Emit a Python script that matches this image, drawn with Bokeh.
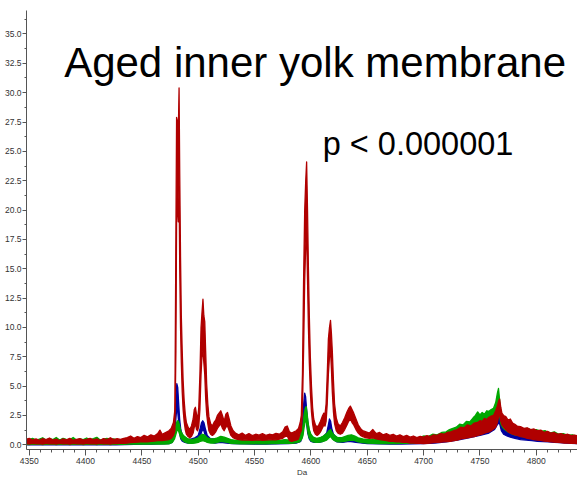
from bokeh.plotting import figure
from bokeh.models import FixedTicker, NumeralTickFormatter, Label, Range1d
from bokeh.embed import file_html
from bokeh.resources import INLINE

# ---------------- data ----------------
x_ticks = [4350, 4400, 4450, 4500, 4550, 4600, 4650, 4700, 4750, 4800]
y_ticks = [0.0, 2.5, 5.0, 7.5, 10.0, 12.5, 15.0, 17.5, 20.0, 22.5, 25.0, 27.5, 30.0, 32.5, 35.0]

title_text = "Aged inner yolk membrane"
pvalue_text = "p < 0.000001"
x_label = "Da"

red_mz = [4347, 4350, 4353, 4356, 4359, 4362, 4365, 4368, 4371, 4374,
          4377, 4380, 4383, 4386, 4389, 4392, 4395, 4398, 4401, 4404,
          4407, 4410, 4413, 4416, 4419, 4422, 4425, 4428, 4431, 4434,
          4437, 4440, 4443, 4446, 4449, 4452, 4455, 4458, 4461, 4464,
          4466, 4468, 4471, 4474, 4476, 4478, 4479.3, 4480.2, 4480.8, 4481.5,
          4482.3, 4483.0, 4483.6, 4484.3, 4485.0, 4485.8, 4486.6, 4487.5, 4488.5, 4489.5,
          4491, 4492.5, 4494, 4495.5, 4496.5, 4497.5, 4498.5, 4499.5, 4500.5, 4501.5,
          4502.5, 4503.3, 4504.2, 4505.0, 4505.8, 4506.6, 4507.5, 4508.5, 4509.5, 4511,
          4512.5, 4514, 4515.5, 4517, 4518.5, 4520, 4521.5, 4523, 4524.5, 4526,
          4527.5, 4529, 4531, 4533, 4536, 4539, 4542, 4545, 4548, 4551,
          4554, 4557, 4560, 4563, 4566, 4569, 4572, 4575, 4577, 4579,
          4581, 4583, 4585, 4587, 4589, 4590.5, 4591.5, 4592.5, 4593.5, 4594.5,
          4595.4, 4596.2, 4597.0, 4597.8, 4598.6, 4599.5, 4600.5, 4601.5, 4602.5, 4604,
          4605.5, 4607, 4608.5, 4610, 4611.5, 4612.5, 4613.5, 4614.5, 4615.5, 4616.5,
          4617.4, 4618.2, 4619.0, 4620.0, 4621.0, 4622.5, 4624, 4626, 4628, 4630,
          4632, 4633.5, 4635, 4636.5, 4638, 4640, 4642, 4644, 4646, 4649,
          4652, 4655, 4658, 4661, 4664, 4667, 4670, 4673, 4676, 4679,
          4682, 4685, 4688, 4691, 4694, 4697, 4700, 4703, 4706, 4709,
          4712, 4715, 4718, 4721, 4724, 4727, 4730, 4733, 4736, 4739,
          4742, 4745, 4748, 4750, 4752, 4754, 4756, 4758, 4760, 4762,
          4764, 4765.5, 4766.5, 4767.5, 4768.5, 4769.5, 4771, 4773, 4775, 4777,
          4779, 4781, 4783, 4786, 4789, 4792, 4795, 4798, 4801, 4804,
          4807, 4810, 4813, 4816, 4819, 4822, 4825, 4828, 4831, 4834,
          4837]
red_hi = [.45, .55, .40, .50, .38, .52, .45, .58, .40, .48,
          .36, .50, .42, .55, .38, .47, .52, .40, .46, .55,
          .42, .50, .38, .53, .45, .60, .44, .52, .47, .55,
          .62, .75, .55, .70, .62, .80, .68, .85, .75, .95,
          1.25, .90, 1.05, 1.20, 1.4, 1.9, 3.0, 18, 27.9, 27.6,
          26.5, 30.4, 23, 16, 11, 8, 5.5, 3.8, 2.6, 1.9,
          1.5, 1.3, 1.6, 2.2, 3.0, 3.2, 2.6, 2.2, 3.2, 6,
          10, 11.2, 12.4, 11.0, 10.5, 8, 5.2, 3.5, 2.4, 1.8,
          1.6, 1.9, 2.1, 2.5, 2.7, 2.9, 2.5, 2.0, 2.6, 2.75,
          2.2, 1.6, 1.2, 1.0, .85, 1.0, .80, .95, .78, .90,
          .82, .95, .80, .90, .85, .98, .90, 1.1, 1.5, 1.6,
          1.1, 1.0, 1.1, 1.2, 1.4, 1.9, 2.5, 6, 14, 20,
          22.5, 24.1, 20, 15, 11, 7.5, 5, 3.2, 2.2, 1.7,
          1.5, 1.7, 2.0, 2.4, 2.7, 2.6, 3.5, 6, 9, 10,
          10.6, 9.5, 8, 5.5, 3.5, 2.3, 1.8, 1.6, 1.9, 2.3,
          2.8, 3.1, 3.3, 3.0, 2.7, 2.2, 1.7, 1.4, 1.2, 1.1,
          1.0, 1.3, .95, 1.05, .85, .95, .80, .90, .75, .85,
          .70, .80, .65, .75, .62, .72, .65, .78, .70, .85,
          .80, .95, .90, 1.05, 1.1, 1.2, 1.3, 1.5, 1.45, 1.7,
          1.6, 1.85, 1.9, 2.05, 2.0, 2.25, 2.15, 2.35, 2.45, 2.5,
          2.9, 3.3, 3.7, 3.9, 3.2, 2.7, 2.5, 2.4, 2.1, 2.2,
          1.85, 1.75, 1.6, 1.55, 1.40, 1.45, 1.30, 1.35, 1.20, 1.25,
          1.05, 1.15, 1.0, 1.05, .90, .95, .85, .90, .78, .82,
          .75]
red_lo = [.10, .06, .12, .08, .10, .05, .12, .08, .10, .06,
          .12, .08, .10, .05, .12, .08, .10, .06, .12, .08,
          .10, .07, .12, .08, .10, .06, .12, .10, .14, .12,
          .15, .18, .20, .22, .25, .28, .25, .30, .32, .35,
          .38, .35, .40, .45, .55, .80, 1.2, 8, 19, 21,
          19, 22, 15, 10, 7, 4.5, 3.0, 2.0, 1.3, 0.9,
          .7, .6, .7, 1.0, 1.5, 1.8, 1.3, 1.2, 1.6, 3,
          6, 7.5, 8, 7, 6, 4, 2.6, 1.8, 1.2, .9,
          .8, .9, 1.1, 1.4, 1.6, 1.8, 1.4, 1.2, 1.5, 1.6,
          1.2, .8, .6, .5, .45, .40, .42, .40, .38, .40,
          .42, .38, .40, .42, .45, .42, .48, .55, .7, .75,
          .35, .30, .35, .40, .50, 1.0, 1.2, 3, 8, 14,
          17, 18, 14, 10, 7, 4.5, 2.8, 1.8, 1.2, .9,
          .8, .9, 1.1, 1.4, 1.7, 1.6, 2.0, 3.5, 6, 7.5,
          8, 6.5, 4.5, 2.8, 1.8, 1.2, 1.0, .9, 1.0, 1.3,
          1.7, 2.0, 2.2, 1.9, 1.7, 1.3, 1.0, .8, .7, .6,
          .55, .6, .5, .45, .4, .35, .3, .3, .25, .25,
          .2, .2, .15, .15, .12, .12, .1, .12, .15, .18,
          .2, .22, .25, .28, .3, .35, .4, .5, .55, .6,
          .65, .7, .8, .85, .9, 1.0, 1.05, 1.1, 1.2, 1.35,
          1.5, 1.9, 2.4, 2.6, 2.0, 1.7, 1.5, 1.3, 1.1, 1.0,
          .9, .85, .8, .7, .65, .55, .5, .45, .4, .38,
          .32, .3, .25, .22, .2, .18, .15, .15, .12, .12,
          .1]

green_mz = [4347, 4350, 4353, 4356, 4359, 4362, 4365, 4368, 4371, 4374,
            4377, 4380, 4383, 4386, 4389, 4392, 4395, 4398, 4401, 4404,
            4407, 4410, 4413, 4416, 4419, 4422, 4425, 4428, 4431, 4434,
            4437, 4440, 4445, 4450, 4455, 4460, 4465, 4470, 4474, 4477,
            4479, 4480.5, 4481.5, 4482.5, 4483.5, 4484.5, 4486, 4488, 4491, 4494,
            4497, 4500, 4502, 4504, 4506, 4508, 4511, 4514, 4517, 4520,
            4523, 4526, 4529, 4533, 4537, 4541, 4545, 4549, 4553, 4557,
            4561, 4565, 4569, 4573, 4577, 4581, 4585, 4588, 4590, 4592,
            4593, 4594, 4595, 4595.8, 4596.6, 4597.5, 4598.5, 4600, 4602, 4605,
            4608, 4611, 4614, 4616, 4617.5, 4619, 4621, 4624, 4627, 4630,
            4633, 4636, 4639, 4642, 4646, 4650, 4655, 4660, 4665, 4670,
            4675, 4680, 4685, 4690, 4695, 4700, 4704, 4708, 4712, 4716,
            4720, 4723, 4726, 4729, 4732, 4735, 4738, 4741, 4744, 4746,
            4748, 4750, 4752, 4754, 4756, 4758, 4760, 4762, 4764, 4765.5,
            4766.5, 4767.5, 4768.5, 4770, 4772, 4775, 4778, 4781, 4784, 4788,
            4792, 4796, 4800, 4804, 4808, 4812, 4816, 4820, 4824, 4828,
            4832, 4837]
green_hi = [.50, .42, .55, .40, .48, .60, .38, .52, .45, .62,
            .40, .55, .47, .43, .62, .40, .50, .45, .58, .42,
            .52, .64, .40, .48, .55, .45, .50, .42, .40, .38,
            .35, .38, .32, .40, .35, .42, .38, .45, .50, .70,
            1.1, 1.8, 2.05, 2.0, 1.6, 1.2, .9, .7, .5, .45,
            .5, .6, .8, .9, .8, .6, .5, .5, .6, .72,
            .65, .55, .45, .38, .42, .35, .40, .33, .38, .36,
            .42, .35, .40, .38, .45, .40, .45, .55, .7, 1.2,
            1.7, 2.6, 3.1, 3.25, 2.7, 1.9, 1.3, .9, .65, .55,
            .6, .75, .95, 1.2, 1.3, 1.0, .8, .6, .6, .7,
            .8, .85, .75, .6, .5, .45, .5, .42, .48, .4,
            .5, .45, .55, .5, .6, .75, .7, .9, .85, 1.05,
            1.1, 1.3, 1.4, 1.5, 1.75, 1.7, 2.0, 1.95, 2.3, 2.5,
            2.8, 2.55, 2.75, 2.6, 2.9, 2.85, 3.0, 3.1, 3.6, 4.4,
            4.8, 3.8, 2.8, 2.4, 2.2, 1.95, 1.85, 1.6, 1.55, 1.35,
            1.4, 1.25, 1.3, 1.15, 1.2, 1.0, 1.1, .9, .95, .8,
            .85, .72]
green_lo = [.05, .02, .06, .03, .05, .02, .06, .03, .05, .02,
            .06, .03, .05, .02, .06, .03, .05, .02, .06, .03,
            .05, .02, .06, .03, .05, .02, .06, .03, .05, .03,
            .05, .05, .05, .05, .05, .06, .06, .07, .08, .2,
            .5, 1.0, 1.3, 1.2, .9, .6, .4, .25, .15, .12,
            .15, .2, .3, .35, .3, .2, .15, .15, .2, .3,
            .25, .2, .12, .1, .08, .1, .08, .1, .08, .1,
            .08, .1, .1, .12, .15, .12, .15, .2, .25, .5,
            .8, 1.5, 2.0, 2.1, 1.6, 1.0, .6, .35, .25, .2,
            .22, .3, .4, .6, .7, .5, .35, .25, .25, .3,
            .35, .4, .35, .25, .18, .15, .12, .1, .1, .1,
            .1, .12, .12, .15, .15, .2, .25, .3, .35, .4,
            .45, .5, .55, .6, .7, .75, .85, .9, 1.0, 1.1,
            1.1, 1.2, 1.3, 1.4, 1.5, 1.6, 1.7, 1.9, 2.3, 2.9,
            3.3, 2.5, 1.8, 1.5, 1.3, 1.1, .95, .85, .8, .7,
            .65, .6, .55, .5, .45, .4, .35, .3, .28, .25,
            .22, .2]

blue_mz = [4347, 4355, 4363, 4371, 4379, 4387, 4395, 4403, 4411, 4419,
           4427, 4435, 4443, 4451, 4459, 4467, 4474, 4477, 4479, 4480,
           4481, 4481.8, 4482.6, 4483.5, 4484.5, 4486, 4488, 4491, 4494, 4497,
           4500, 4501.5, 4503, 4504, 4505, 4506.5, 4508, 4511, 4515, 4520,
           4525, 4530, 4540, 4550, 4560, 4570, 4580, 4587, 4591, 4592.5,
           4593.5, 4594.5, 4595.3, 4596.2, 4597.2, 4598.5, 4600, 4603, 4607, 4611,
           4614, 4615.5, 4616.5, 4617.5, 4618.5, 4620, 4623, 4628, 4634, 4640,
           4650, 4660, 4670, 4680, 4690, 4700, 4710, 4720, 4730, 4740,
           4750, 4758, 4763, 4766, 4767.5, 4769, 4771, 4774, 4777, 4781,
           4786, 4791, 4796, 4801, 4806, 4811, 4816, 4821, 4826, 4831,
           4837]
blue_hi = [.2, .15, .22, .18, .2, .16, .22, .18, .2, .16,
           .22, .2, .22, .25, .28, .3, .4, .8, 2.0, 3.8,
           5.2, 4.9, 3.6, 2.2, 1.3, .8, .6, .45, .5, .6,
           .8, 1.3, 1.9, 2.05, 1.9, 1.3, .8, .5, .5, .55,
           .5, .35, .3, .28, .3, .3, .35, .45, .8, 1.8,
           3.4, 4.4, 4.1, 3.0, 2.0, 1.2, .8, .55, .5, .7,
           1.0, 1.7, 2.2, 2.0, 1.4, .9, .6, .5, .6, .5,
           .35, .3, .28, .3, .3, .35, .5, .7, .95, 1.3,
           1.6, 1.9, 2.2, 2.6, 2.6, 2.0, 1.6, 1.35, 1.2, 1.05,
           .95, .85, .8, .7, .65, .6, .55, .5, .45, .4,
           .4]
blue_lo = [0, .02, 0, .02, 0, .02, 0, .02, 0, .02,
           0, .02, .03, .05, .05, .08, .1, .2, .8, 2.0,
           3.2, 2.8, 2.0, 1.0, .5, .3, .2, .15, .15, .2,
           .3, .6, 1.1, 1.3, 1.2, .7, .35, .2, .15, .2,
           .15, .1, .08, .06, .06, .08, .1, .15, .3, .8,
           2.0, 3.0, 2.8, 1.8, 1.0, .5, .3, .2, .2, .3,
           .5, 1.0, 1.4, 1.2, .8, .45, .25, .2, .3, .2,
           .1, .08, .06, .06, .08, .1, .15, .25, .4, .6,
           .8, 1.0, 1.3, 1.8, 1.8, 1.2, .9, .75, .65, .55,
           .45, .4, .35, .3, .28, .25, .2, .18, .15, .12,
           .1]

# ---------------- figure ----------------
p = figure(width=577, height=479,
           x_range=Range1d(4347.6, 4836.6), y_range=Range1d(-0.4, 37.0),
           output_backend="svg", toolbar_location=None,
           min_border_left=26, min_border_right=0, min_border_top=10, min_border_bottom=28)
p.xgrid.visible = False
p.ygrid.visible = False
p.outline_line_color = None
p.background_fill_color = "white"
p.border_fill_color = "white"

series = [(blue_mz, blue_lo, blue_hi, "#0000A0"),
          (green_mz, green_lo, green_hi, "#00A800"),
          (red_mz, red_lo, red_hi, "#B00000")]
for mz, lo, hi, col in series:
    p.varea(x=mz, y1=lo, y2=hi, fill_color=col)
    p.line(mz, hi, line_color=col, line_width=1.3, line_join="round")
    p.line(mz, lo, line_color=col, line_width=1.3, line_join="round")

# axes
tick_font = "Liberation Sans"
p.xaxis.ticker = FixedTicker(ticks=x_ticks,
                             minor_ticks=[x_ticks[0] + 10 * i for i in range(50)])
p.yaxis.ticker = FixedTicker(ticks=y_ticks,
                             minor_ticks=[y_ticks[0] + 1.25 * i for i in range(30)])
p.yaxis.formatter = NumeralTickFormatter(format="0.0")
for ax in (p.xaxis[0], p.yaxis[0]):
    ax.axis_line_color = "#555555"
    ax.major_tick_line_color = "#555555"
    ax.minor_tick_line_color = "#555555"
    ax.major_tick_in = 0
    ax.minor_tick_in = 0
    ax.major_label_text_font = tick_font
    ax.major_label_text_font_size = "8.5px"
    ax.major_label_text_color = "#333333"
p.yaxis.major_tick_out = 4
p.yaxis.minor_tick_out = 2
p.yaxis.major_label_standoff = 1
p.xaxis.major_tick_out = 6
p.xaxis.minor_tick_out = 3
p.xaxis.major_label_standoff = 2
p.xaxis.axis_label = x_label
p.xaxis.axis_label_text_font = tick_font
p.xaxis.axis_label_text_font_size = "8px"
p.xaxis.axis_label_text_font_style = "normal"
p.xaxis.axis_label_text_color = "#333333"
p.xaxis.axis_label_standoff = 1

# titles
p.add_layout(Label(x=4381, y=32.6, text=title_text, text_font="Liberation Sans",
                   text_font_size="42px", text_color="black", text_baseline="alphabetic"))
p.add_layout(Label(x=4610.5, y=25.6, text=pvalue_text, text_font="Liberation Sans",
                   text_font_size="32.5px", text_color="black", text_baseline="alphabetic"))

open("out.html", "w").write(file_html(p, INLINE))
